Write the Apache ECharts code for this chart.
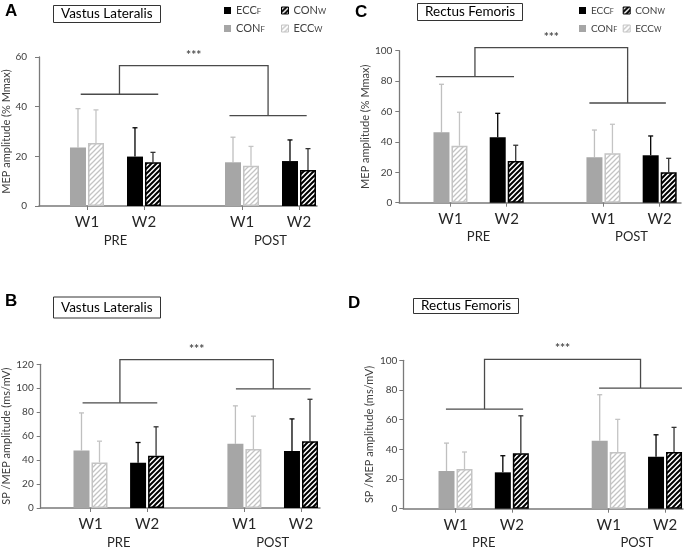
<!DOCTYPE html>
<html><head><meta charset="utf-8">
<script src="https://cdn.jsdelivr.net/npm/echarts@6/dist/echarts.min.js"></script>
<style>html,body{margin:0;padding:0;background:#fff}#chart{width:685px;height:548px}</style>
</head><body><div id="chart"></div>
<script>
// ================= DATA =================
const groups = ['W1', 'W2', 'W1', 'W2'];
const phases = ['PRE', 'POST'];
const conditions = ['CONF', 'ECCW', 'ECCF', 'CONW'];      // bar order inside the groups
const panelLetters = ['A', 'B', 'C', 'D'];
const muscles = ['Vastus Lateralis', 'Vastus Lateralis', 'Rectus Femoris', 'Rectus Femoris'];
const yNames = ['MEP amplitude (% Mmax)', 'SP /MEP amplitude (ms/mV)', 'MEP amplitude (% Mmax)', 'SP /MEP amplitude (ms/mV)'];
const yMax = [60, 120, 100, 100];
const yStep = [20, 20, 20, 20];
const sigText = '***';

// order: PRE CONF, PRE ECCW, PRE ECCF, PRE CONW, POST CONF, POST ECCW, POST ECCF, POST CONW
const vlMepMean = [23.6, 25.4, 19.9, 17.6, 17.6, 16.2, 18.1, 14.5];
const vlMepSd   = [15.6, 13.3, 11.6, 4.0, 10.1, 7.8, 8.5, 8.6];
const vlSpMean  = [48.1, 38.1, 37.8, 43.6, 53.6, 49.2, 47.5, 55.8];
const vlSpSd    = [31.3, 17.7, 16.9, 24.2, 31.7, 27.5, 26.9, 35.0];
const rfMepMean = [46.3, 37.5, 43.0, 27.4, 29.9, 32.5, 31.2, 20.0];
const rfMepSd   = [31.6, 22.0, 15.8, 10.4, 17.9, 19.1, 12.7, 9.2];
const rfSpMean  = [25.4, 26.7, 24.5, 37.3, 45.8, 38.2, 35.0, 38.2];
const rfSpSd    = [18.8, 11.5, 11.2, 25.3, 31.0, 22.0, 14.8, 16.6];

// significance bracket levels (y units): [PRE, POST, top]
const vlMepSig = [45.0, 36.4, 56.5];
const vlSpSig  = [87.8, 99.4, 123.9];
const rfMepSig = [82.9, 65.6, 102.0];
const rfSpSig  = [67.1, 81.3, 100.6];

const panelMeans = [vlMepMean, vlSpMean, rfMepMean, rfSpMean];
const panelSds = [vlMepSd, vlSpSd, rfMepSd, rfSpSd];
const panelSig = [vlMepSig, vlSpSig, rfMepSig, rfSpSig];

// ================= LAYOUT / STYLE =================
const FONT = 'Lato, "Open Sans", sans-serif';
const POS = [1, 2, 3.72, 4.72];            // group positions on x axis
const PHASE_POS = [1.5, 4.22];
const GRIDS = [
  {left: 39, top: 57, width: 278, height: 149},
  {left: 40.7, top: 364.3, width: 279.3, height: 143.7},
  {left: 399.3, top: 50.7, width: 281.7, height: 152},
  {left: 403.3, top: 360.3, width: 279.7, height: 148.4}
];
const XRANGE = [[0.158, 5.036], [0.12, 5.056], [0.09, 5.099], [0.073, 5.039]];
const BRACKET_X = [[0.89, 2.25, 3.50, 4.855], [0.86, 2.18, 3.57, 4.89], [0.74, 2.13, 3.47, 4.83], [0.83, 2.20, 3.55, 5.02]];
const YLABEL_MARGIN = [12, 7, 7, 6];
const YNAME_GAP = [26, 29, 27, 28];
const LETTER_POS = [[5, 3], [5, 293], [355, 3.5], [348, 294.5]];
const BOX_POS = [[53, 5, [2, 8]], [53, 297, [3.5, 8]], [417, 3, [2, 8]], [413, 298, [1, 8]]];
const BAR_W = 16, BAR_OFF = 9, CAP = 2.5, ERR_W = 1.3;
const AXIS_COLOR = '#7a7a7a';

function hatch(color, lw, size) {
  const c = document.createElement('canvas');
  c.width = c.height = size;
  const g = c.getContext('2d');
  g.fillStyle = '#fff'; g.fillRect(0, 0, size, size);
  g.strokeStyle = color; g.lineWidth = lw;
  g.beginPath();
  g.moveTo(0, size); g.lineTo(size, 0);
  g.moveTo(-size / 2, size / 2); g.lineTo(size / 2, -size / 2);
  g.moveTo(size / 2, size * 1.5); g.lineTo(size * 1.5, size / 2);
  g.stroke();
  return {image: c, repeat: 'repeat'};
}

const STYLES = {
  CONF: {fill: '#a6a6a6', err: '#bfbfbf'},
  ECCW: {fill: hatch('#c4c4c4', 1.3, 5), stroke: '#c4c4c4', lineWidth: 1.5, err: '#c4c4c4'},
  ECCF: {fill: '#000000', err: '#000000'},
  CONW: {fill: hatch('#000000', 2, 5), stroke: '#000000', lineWidth: 1.5, err: '#333333'}
};

function barRender(side, st) {
  return function (params, api) {
    const x = api.value(0), m = api.value(1), sd = api.value(2);
    const p0 = api.coord([x, 0]);
    const p1 = api.coord([x, m]);
    const p2 = api.coord([x, m + sd]);
    const cx = p0[0] + side * BAR_OFF;
    const ins = st.lineWidth ? st.lineWidth / 2 : 0;
    return {type: 'group', children: [
      {type: 'line', shape: {x1: cx, y1: p1[1], x2: cx, y2: p2[1]}, style: {stroke: st.err, lineWidth: ERR_W}},
      {type: 'line', shape: {x1: cx - CAP, y1: p2[1], x2: cx + CAP, y2: p2[1]}, style: {stroke: st.err, lineWidth: ERR_W}},
      {type: 'rect', shape: {x: cx - BAR_W / 2 + ins, y: p1[1] + ins, width: BAR_W - 2 * ins, height: p0[1] - p1[1] - 2 * ins},
        style: {fill: st.fill, stroke: st.stroke || null, lineWidth: st.lineWidth || 0}}
    ]};
  };
}

function bracketRender(params, api) {
  const v = i => api.value(i);
  const preMid = (v(0) + v(1)) / 2, postMid = (v(2) + v(3)) / 2;
  const a1 = api.coord([v(0), v(4)]), a2 = api.coord([v(1), v(4)]);
  const b1 = api.coord([v(2), v(5)]), b2 = api.coord([v(3), v(5)]);
  const pm = api.coord([preMid, v(4)]), qm = api.coord([postMid, v(5)]);
  const t1 = api.coord([preMid, v(6)]), t2 = api.coord([postMid, v(6)]);
  const ls = {stroke: '#4a4a4a', lineWidth: 1.3, fill: null};
  return {type: 'group', children: [
    {type: 'line', shape: {x1: a1[0], y1: a1[1], x2: a2[0], y2: a2[1]}, style: ls},
    {type: 'line', shape: {x1: b1[0], y1: b1[1], x2: b2[0], y2: b2[1]}, style: ls},
    {type: 'polyline', shape: {points: [pm, t1, t2, qm]}, style: ls},
    {type: 'text', x: (t1[0] + t2[0]) / 2, y: t1[1] - 11,
      style: {text: sigText, fill: '#4d4d4d', fontSize: 12, fontWeight: 'bold', fontFamily: FONT, align: 'center', verticalAlign: 'middle'}}
  ]};
}

const grid = [], xAxis = [], yAxis = [], series = [], title = [];
for (let p = 0; p < 4; p++) {
  grid.push(Object.assign({containLabel: false, outerBoundsMode: 'none'}, GRIDS[p]));
  xAxis.push({
    type: 'value', gridIndex: p, min: XRANGE[p][0], max: XRANGE[p][1],
    axisLine: {show: true, onZero: false, lineStyle: {color: AXIS_COLOR, width: 1.5}},
    axisTick: {show: true, customValues: POS, length: 4, lineStyle: {color: AXIS_COLOR}},
    axisLabel: {customValues: POS, margin: 9, fontSize: 15, color: '#262626', fontFamily: FONT,
      formatter: val => { const i = POS.findIndex(q => Math.abs(q - val) < 1e-6); return i >= 0 ? groups[i] : ''; }},
    splitLine: {show: false}
  });
  xAxis.push({
    type: 'value', gridIndex: p, min: XRANGE[p][0], max: XRANGE[p][1], position: 'bottom',
    axisLine: {show: false}, axisTick: {show: false}, splitLine: {show: false},
    axisLabel: {customValues: PHASE_POS, margin: 28, fontSize: 13, color: '#262626', fontFamily: FONT,
      formatter: val => { const i = PHASE_POS.findIndex(q => Math.abs(q - val) < 1e-6); return i >= 0 ? phases[i] : ''; }}
  });
  yAxis.push({
    type: 'value', gridIndex: p, min: 0, max: yMax[p], interval: yStep[p],
    axisLine: {show: true, onZero: false, lineStyle: {color: AXIS_COLOR, width: 1.3}},
    axisTick: {show: true, length: 4, lineStyle: {color: AXIS_COLOR}},
    axisLabel: {margin: YLABEL_MARGIN[p], fontSize: 10, color: '#404040', fontFamily: FONT},
    splitLine: {show: false},
    name: yNames[p], nameLocation: 'middle', nameGap: YNAME_GAP[p],
    nameTextStyle: {fontSize: 11, color: '#404040', fontFamily: FONT}
  });
  const means = panelMeans[p], sds = panelSds[p];
  conditions.forEach((c, ci) => {
    const gOff = ci < 2 ? 0 : 1;
    const data = phases.map((ph, pi) => [POS[pi * 2 + gOff], means[pi * 4 + ci], sds[pi * 4 + ci]]);
    const st = STYLES[c];
    series.push({
      type: 'custom', name: c, xAxisIndex: p * 2, yAxisIndex: p, clip: false,
      itemStyle: {color: st.fill, borderColor: st.stroke || st.fill, borderWidth: st.lineWidth || 0},
      renderItem: barRender(ci % 2 === 0 ? -1 : 1, st), data: data, silent: true, z: 3
    });
  });
  series.push({
    type: 'custom', name: 'sig' + p, xAxisIndex: p * 2, yAxisIndex: p, clip: false, silent: true,
    dimensions: ['x0', 'x1', 'x2', 'x3', 'y0', 'y1', 'y2'],
    encode: {x: [0, 1, 2, 3], y: [4, 5, 6]},
    renderItem: bracketRender, data: [BRACKET_X[p].concat(panelSig[p])], z: 4
  });
  title.push({text: panelLetters[p], left: LETTER_POS[p][0], top: LETTER_POS[p][1], padding: 0,
    textStyle: {fontFamily: '"Liberation Sans", Arial, sans-serif', fontWeight: 'bold', fontSize: 17, color: '#000'}});
  title.push({text: muscles[p], left: BOX_POS[p][0], top: BOX_POS[p][1], padding: BOX_POS[p][2],
    borderWidth: 1, borderColor: '#333',
    textStyle: {fontFamily: FONT, fontWeight: 'normal', fontSize: 13.5, color: '#000'}});
}

function legendItem(n) {
  const st = STYLES[n];
  return {name: n, icon: 'rect', itemStyle: {color: st.fill, borderColor: st.stroke || st.fill, borderWidth: st.lineWidth ? 1 : 0}};
}
function makeLegend(names, left, fs) {
  return {
    data: names.map(legendItem), left: left, top: 3.5, orient: 'vertical', padding: 0,
    itemWidth: 7, itemHeight: 7, itemGap: 4, selectedMode: false,
    formatter: n => n.slice(0, 3) + '{s|' + n.slice(3) + '}',
    textStyle: {fontFamily: FONT, fontSize: fs, color: '#404040', lineHeight: 14,
      rich: {s: {fontFamily: FONT, fontSize: fs * 0.72, color: '#404040', lineHeight: 14, verticalAlign: 'middle', padding: [1.5, 0, 0, 0]}}}
  };
}
const legend = [
  makeLegend(['ECCF', 'CONF'], 224, 11),
  makeLegend(['CONW', 'ECCW'], 281, 11),
  makeLegend(['ECCF', 'CONF'], 579, 10),
  makeLegend(['CONW', 'ECCW'], 622.7, 10)
];

const chart = echarts.init(document.getElementById('chart'), null, {renderer: 'canvas'});
chart.setOption({backgroundColor: '#fff', animation: false, title, legend, grid, xAxis, yAxis, series});
</script></body></html>
